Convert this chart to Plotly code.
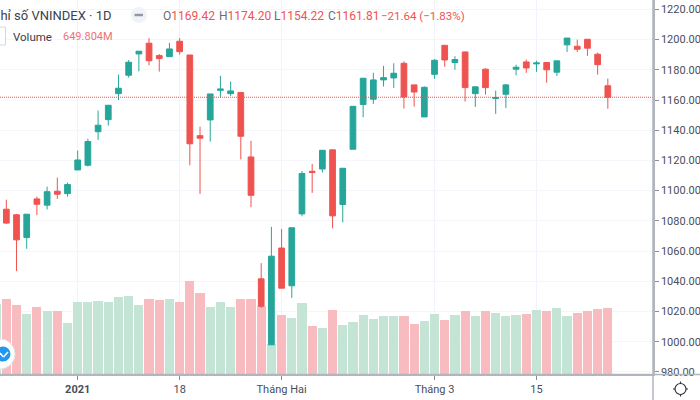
import plotly.graph_objects as go

# Trading-day positions; 0 is the first session of 2021
candle_days = list(range(-7, 53))
volume_days = list(range(-8, 53))

opens = [1087.7,1084.0,1069.0,1094.5,1090.4,1099.6,1098.0,1113.7,1116.8,1139.0,1147.0,1164.2,1176.4,1190.5,1197.6,1189.4,1188.7,1198.9,1189.8,1136.4,1146.8,1166.4,1164.2,1165.0,1122.3,1041.6,997.9,1062.0,1037.0,1084.6,1112.8,1114.3,1127.0,1090.8,1127.4,1157.0,1160.5,1173.3,1174.6,1184.3,1170.0,1148.8,1177.0,1196.2,1184.8,1191.8,1164.2,1180.4,1161.0,1163.8,1180.4,1185.2,1183.9,1184.8,1178.4,1196.5,1195.6,1200.2,1190.3,1169.42]
highs = [1094.0,1084.6,1084.4,1096.0,1102.6,1108.6,1105.3,1126.5,1134.4,1153.0,1156.5,1176.8,1186.5,1192.3,1201.0,1190.5,1197.8,1201.0,1189.8,1142.4,1164.0,1176.0,1172.2,1165.0,1133.0,1052.0,1076.0,1074.7,1075.4,1113.0,1117.7,1126.7,1127.0,1114.8,1155.8,1174.4,1178.0,1182.6,1184.3,1185.6,1170.0,1169.0,1187.0,1196.2,1189.0,1192.0,1169.3,1181.0,1166.2,1170.6,1183.4,1186.8,1186.0,1184.8,1185.9,1201.0,1200.0,1200.4,1191.4,1174.20]
lows = [1078.0,1046.7,1061.5,1083.7,1087.5,1094.5,1096.0,1113.7,1116.0,1133.6,1143.0,1160.0,1174.8,1179.0,1183.0,1178.8,1188.7,1190.0,1116.8,1097.8,1132.5,1161.6,1162.7,1120.7,1089.0,1022.4,997.9,1035.4,1029.0,1083.0,1098.5,1112.0,1075.0,1079.0,1127.4,1148.6,1157.4,1168.9,1168.0,1154.3,1155.6,1148.8,1174.0,1182.0,1180.0,1159.0,1155.4,1163.6,1150.8,1154.7,1176.4,1178.0,1178.6,1171.5,1176.0,1191.8,1191.8,1189.2,1176.8,1154.22]
closes = [1078.5,1067.4,1084.4,1091.0,1099.3,1097.6,1104.0,1120.3,1132.5,1143.3,1156.5,1167.8,1185.0,1192.3,1186.0,1187.4,1193.8,1192.0,1131.0,1134.7,1164.0,1167.3,1166.0,1136.0,1096.9,1023.5,1056.6,1035.4,1075.4,1111.3,1112.0,1126.7,1083.3,1114.8,1155.8,1174.4,1173.3,1174.8,1177.7,1162.0,1165.3,1168.4,1186.3,1186.5,1186.8,1168.2,1168.7,1168.2,1161.6,1170.0,1181.7,1181.2,1184.5,1180.0,1185.9,1201.0,1193.6,1194.3,1183.4,1161.81]

volumes = [693,739,683,590,660,620,620,501,709,709,722,716,762,775,679,742,732,742,709,920,802,663,712,663,739,742,673,294,587,554,703,472,458,633,488,511,584,544,571,571,571,495,528,590,534,584,627,571,627,607,571,584,594,630,627,650,571,600,623,640,649.8]
volume_up = "g r r g r g r g g g g g g g g r r g r r r g g g r r r g r g g r g r g g g g g g r r g g r g r g r g g g r g r g g r r r r".split()

price_ticks = [980,1000,1020,1040,1060,1080,1100,1120,1140,1160,1180,1200,1220]
time_tick_days = [0,10,20,35,45]
time_tick_labels = ["<b>2021</b>","18","Tháng Hai","Tháng 3","15"]

GREEN, RED = "#26a69a", "#ef5350"
W, H = 700, 400
PLOT_W, PLOT_H = 653, 374
px = lambda v: v / PLOT_W
py = lambda v: 1 - v / PLOT_H

fig = go.Figure()
fig.add_trace(go.Bar(
    x=volume_days, y=volumes, width=0.9,
    marker=dict(color=["#c4e5d5" if c == "g" else "#f7bbc0" for c in volume_up], line=dict(width=0)),
    yaxis="y", xaxis="x", hoverinfo="skip", showlegend=False))
fig.add_trace(go.Candlestick(
    x=candle_days, open=opens, high=highs, low=lows, close=closes,
    increasing=dict(line=dict(color=GREEN, width=1), fillcolor=GREEN),
    decreasing=dict(line=dict(color=RED, width=1), fillcolor=RED),
    yaxis="y2", xaxis="x", showlegend=False))
fig.add_trace(go.Scatter(
    x=[-7.62, 56.43], y=[closes[-1], closes[-1]], mode="lines",
    line=dict(color=RED, width=1, dash="1px 1px"),
    yaxis="y2", xaxis="x", hoverinfo="skip", showlegend=False))

FONT = "Roboto"
DARK = "#4a4e59"
ann = []
def label(x, y, text, color=DARK, size=13, anchor="left"):
    ann.append(dict(xref="paper", yref="paper", x=px(x), y=py(y), text=text, showarrow=False,
                    xanchor=anchor, yanchor="middle", align=anchor,
                    font=dict(family=FONT, size=size, color=color)))
label(114, 15, "Chỉ số VNINDEX · 1D", "#3c404a", 13, "right")
R = lambda s: f'<span style="color:{RED}">{s}</span>'
label(161, 15.5, "O" + R("1169.42"), "#6a6d78", 12)
label(216.5, 15.5, "H" + R("1174.20"), "#6a6d78", 12)
label(271.5, 15.5, "L" + R("1154.22"), "#6a6d78", 12)
label(325.5, 15.5, "C" + R("1161.81"), "#6a6d78", 12)
label(379, 15.5, "−21.64 (−1.83%)", RED, 11.5)
label(11, 36.5, "Volume", "#3c404a", 11.5)
label(60.5, 36.5, "649.804M", "#f0707a", 11)

def rect(x0, y0, x1, y1, **k):
    return dict(type="rect", xref="paper", yref="paper", x0=px(x0), x1=px(x1), y0=py(y0), y1=py(y1), **k)
def circ(cx, cy, r, **k):
    return dict(type="circle", xref="paper", yref="paper", x0=px(cx-r), x1=px(cx+r), y0=py(cy-r), y1=py(cy+r), **k)
def seg(x0, y0, x1, y1, color, width):
    return dict(type="line", xref="paper", yref="paper", x0=px(x0), x1=px(x1), y0=py(y0), y1=py(y1),
                line=dict(color=color, width=width))

shapes = [
    circ(139, 15, 8, fillcolor="#f0f3fa", line=dict(width=0)),
    seg(134.5, 15, 143, 15, "#9598a1", 2.5),
    rect(-6, 27, 5.5, 45, fillcolor="#ffffff", line=dict(color="#d6d8de", width=1)),
    seg(653, 0, 653, 400, "#b2b5be", 1.5),
    seg(0, 374.5, 700, 374.5, "#b2b5be", 1.5),
    circ(0, 354, 15, fillcolor="#ffffff", line=dict(color="#e4e6ea", width=1)),
    circ(3, 354, 7.5, fillcolor="#2196f3", line=dict(width=0)),
    seg(0, 353, 3.5, 357, "#ffffff", 1.5),
    seg(3.5, 357, 8, 352, "#ffffff", 1.5),
    circ(680.5, 389, 5.5, fillcolor="#ffffff", line=dict(color="#30333b", width=1.2)),
]
for x0, y0, x1, y1 in [(680.5,381.5,680.5,383.5),(680.5,394.5,680.5,396.5),(673,389,675,389),(686,389,688,389)]:
    shapes.append(seg(x0, y0, x1, y1, "#30333b", 1.2))

fig.update_layout(
    width=W, height=H, autosize=False,
    margin=dict(l=0, r=W-PLOT_W, t=0, b=H-PLOT_H, pad=0, autoexpand=False),
    paper_bgcolor="#ffffff", plot_bgcolor="#ffffff",
    boxgap=0.2, bargap=0, hovermode=False,
    annotations=ann, shapes=shapes,
    xaxis=dict(range=[-7.62, 56.43], tickmode="array", tickvals=time_tick_days, ticktext=time_tick_labels,
               automargin=False,
               showgrid=True, gridcolor="#f0f3fa", gridwidth=1, zeroline=False,
               showline=True, linecolor="#b2b5be", linewidth=1.5,
               ticks="outside", ticklen=4, tickcolor="#8a8d96", tickwidth=1,
               tickfont=dict(family=FONT, size=11, color=DARK),
               rangeslider=dict(visible=False)),
    yaxis=dict(range=[0, 3699], visible=False, showgrid=False, fixedrange=True, automargin=False),
    yaxis2=dict(range=[978.6, 1226.2], overlaying="y", side="right", anchor="x", automargin=False,
                tickmode="array", tickvals=price_ticks, tickformat=".2f",
                showgrid=True, gridcolor="#f4f6fb", gridwidth=1, zeroline=False,
                showline=True, linecolor="#b2b5be", linewidth=1.5,
                ticks="outside", ticklen=4, tickcolor="#8a8d96", tickwidth=1,
                tickfont=dict(family=FONT, size=11, color=DARK)),
)
fig.write_html("out.html", config=dict(displayModeBar=False),
               post_script="document.documentElement.style.overflow='hidden';document.body.style.margin='0';document.body.style.overflow='hidden';")
